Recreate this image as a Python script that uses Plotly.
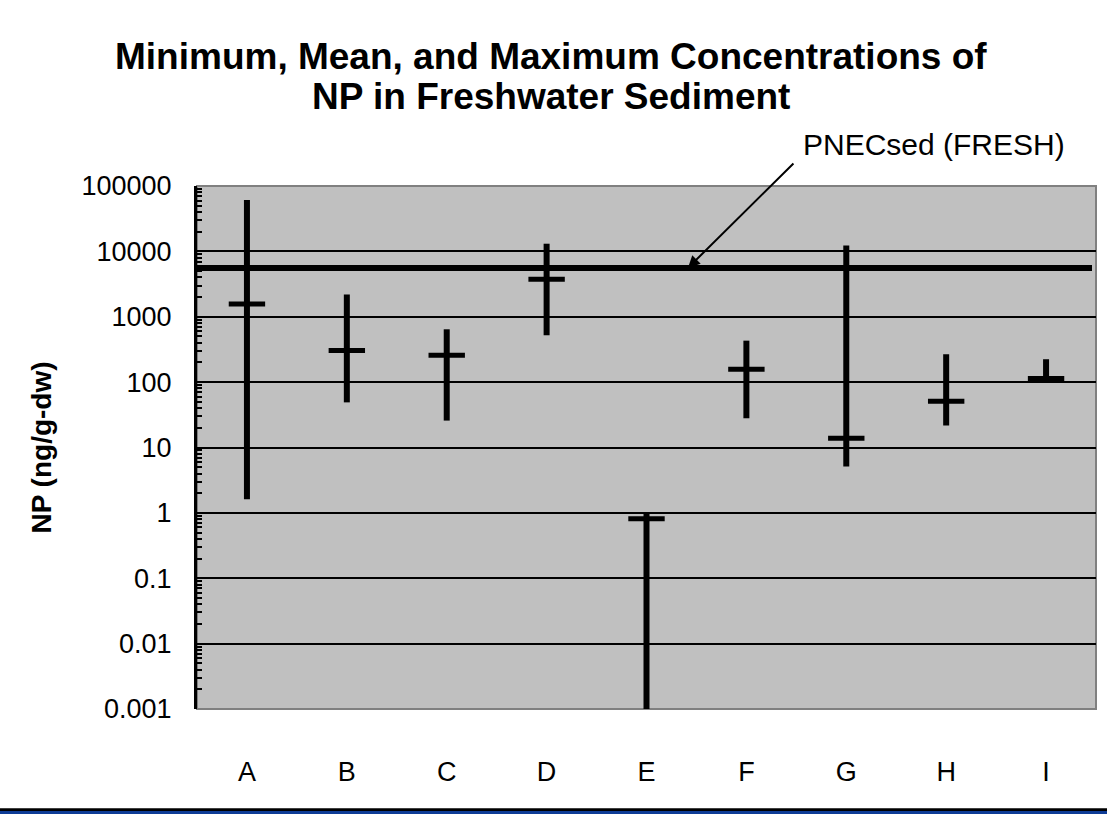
import plotly.graph_objects as go

categories = ["A", "B", "C", "D", "E", "F", "G", "H", "I"]
min_vals = [1.62, 49, 25.8, 521, 0.001, 28, 5.1, 21.7, 102]
mean_vals = [1560, 304, 258, 3750, 0.81, 158, 13.9, 51, 114]
max_vals = [61200, 2190, 643, 13100, 1.0, 431, 12300, 267, 224]
pnec_value = 5570
pnec_label = "PNECsed (FRESH)"
title_lines = ["Minimum, Mean, and Maximum Concentrations of", "NP in Freshwater Sediment"]
y_tick_vals = [0.001, 0.01, 0.1, 1, 10, 100, 1000, 10000, 100000]
y_tick_text = ["0.001", "0.01", "0.1", "1", "10", "100", "1000", "10000", "100000"]

FONT = "Liberation Sans, Arial, sans-serif"
xpos = list(range(len(categories)))
minor_ticks = [m * d for d in y_tick_vals[:-1] for m in range(2, 10)]

fig = go.Figure()

# PNEC reference line
fig.add_trace(go.Scatter(
    x=[-0.5, 8.46], y=[pnec_value, pnec_value], mode="lines",
    line=dict(color="black", width=6), hoverinfo="skip", showlegend=False,
    cliponaxis=False,
))

# min-max vertical lines
vx, vy = [], []
for i, lo, hi in zip(xpos, min_vals, max_vals):
    vx += [i, i, None]
    vy += [lo, hi, None]
fig.add_trace(go.Scatter(
    x=vx, y=vy, mode="lines", line=dict(color="black", width=6),
    showlegend=False, connectgaps=False,
))

# mean markers
fig.add_trace(go.Scatter(
    x=xpos, y=mean_vals, mode="markers",
    marker=dict(symbol="line-ew", size=26, color="black",
                line=dict(color="black", width=5)),
    showlegend=False,
))

# plot border (gray)
fig.add_shape(type="rect", xref="paper", yref="paper", x0=0, x1=1, y0=0, y1=1,
              line=dict(color="#808080", width=2), layer="below")

# title (two lines, tight spacing)
for txt, yy in zip(title_lines, [1.2467, 1.1702]):
    fig.add_annotation(x=0.394, y=yy, xref="paper", yref="paper",
                       text="<b>" + txt + "</b>", showarrow=False,
                       font=dict(family=FONT, size=37, color="black"),
                       xanchor="center", yanchor="middle")

# arrow
fig.add_annotation(x=4.415, y=3.746, xref="x", yref="y", ax=107, ay=-106,
                   text="", showarrow=True, arrowhead=2, arrowsize=1.2,
                   arrowwidth=2, arrowcolor="black")
fig.add_annotation(x=0.672, y=1.0785, xref="paper", yref="paper", text=pnec_label,
                   showarrow=False, font=dict(family=FONT, size=30, color="black"),
                   xanchor="left", yanchor="middle")

fig.update_layout(
    width=1107, height=814,
    margin=dict(l=197, r=11, t=186, b=105),
    paper_bgcolor="white", plot_bgcolor="#C0C0C0",
    font=dict(family=FONT, size=27, color="black"),
    showlegend=False,
)

fig.update_xaxes(
    range=[-0.5, 8.5], tickvals=xpos, ticktext=categories,
    showgrid=False, zeroline=False, showline=False, ticks="",
    ticklabelstandoff=44, tickfont=dict(size=27),
)
fig.update_yaxes(
    type="log", range=[-3, 5], tickvals=y_tick_vals, ticktext=y_tick_text,
    showgrid=True, gridcolor="black", gridwidth=2,
    showline=True, linecolor="black", linewidth=3,
    ticks="inside", ticklen=8, tickwidth=2, tickcolor="black",
    minor=dict(ticks="inside", tickvals=minor_ticks, ticklen=5, tickwidth=1.5,
               tickcolor="black", showgrid=False),
    ticklabelstandoff=17, tickfont=dict(size=27),
    title=dict(text="<b>NP (ng/g-dw)</b>", font=dict(size=28), standoff=22),
    zeroline=False,
)

# bottom stripe (black over blue)
fig.add_shape(type="rect", xref="paper", yref="paper", x0=-0.25, x1=1.02,
              y0=-0.26, y1=-0.1950, fillcolor="#0E3C96", line_width=0, layer="above")
fig.add_shape(type="rect", xref="paper", yref="paper", x0=-0.25, x1=1.02,
              y0=-0.1950, y1=-0.1900, fillcolor="black", line_width=0, layer="above")

fig.write_html("out.html", config={"displayModeBar": False},
               post_script="document.body.style.margin='0';")
